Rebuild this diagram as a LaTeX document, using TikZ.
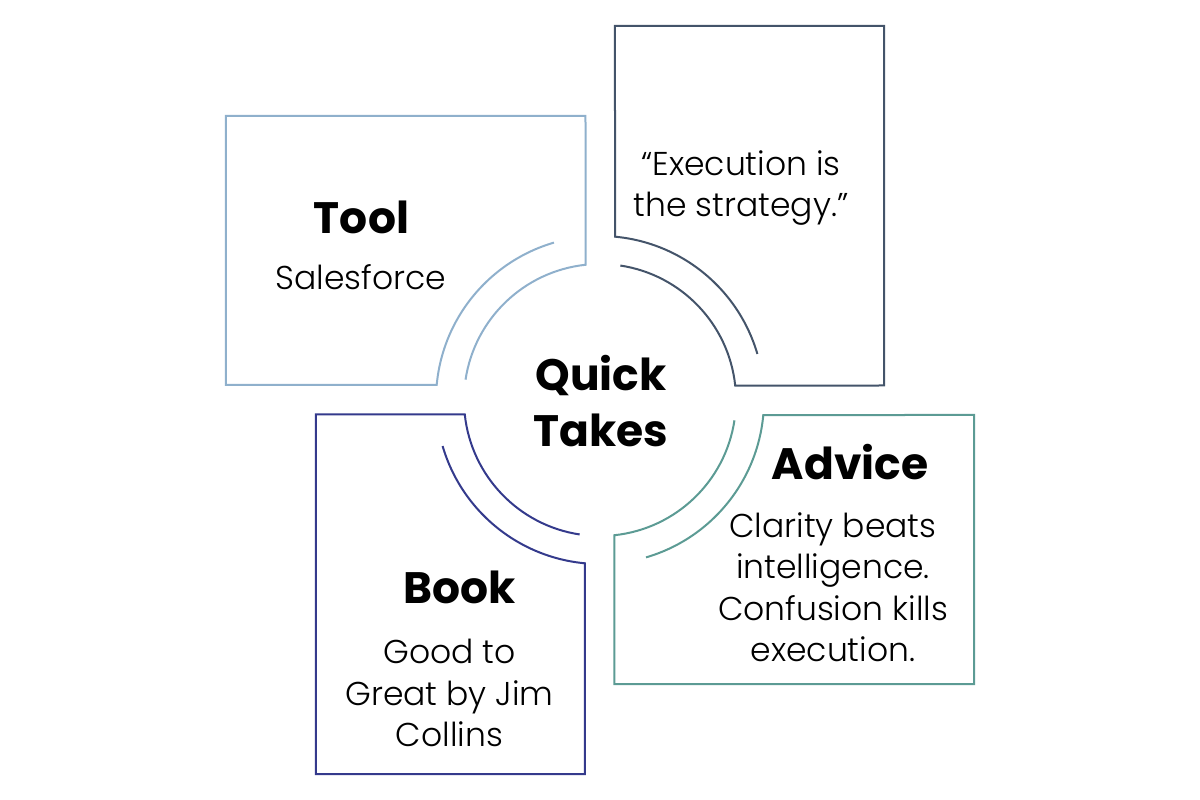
\documentclass[tikz,border=0pt]{standalone}
\usepackage{fontspec}
\setmainfont{Poppins}
\newfontfamily\bodyfont{Poppins}[UprightFont=* Light]

\definecolor{toolblue}{RGB}{143,176,204}
\definecolor{quoteslate}{RGB}{68,84,106}
\definecolor{booknavy}{RGB}{52,58,140}
\definecolor{adviceteal}{RGB}{92,155,148}

\begin{document}
\begin{tikzpicture}[x=1pt, y=1pt,
  every node/.style={align=center, inner sep=0pt},
  cutbox/.style={line width=2pt},
  head/.style={font=\fontsize{44}{55.7}\selectfont\bfseries},
  body/.style={font=\bodyfont\fontsize{33}{41.5}\selectfont}
]
  \useasboundingbox (-600,-400) rectangle (600,400);

  % four boxes, each one cut by two arcs round the centre
  \draw[cutbox, toolblue] (106.3:164) arc[start angle=106.3, end angle=174.75, radius=164]
    -- (-374,15) -- (-374,284) -- (-14.5,284) -- (96.1:136) arc[start angle=96.1, end angle=171.4, radius=136];
  \draw[cutbox, quoteslate, rotate=-90] (106.3:164) arc[start angle=106.3, end angle=174.75, radius=164]
    -- (-374,15) -- (-374,284) -- (-14.5,284) -- (96.1:136) arc[start angle=96.1, end angle=171.4, radius=136];
  \draw[cutbox, adviceteal, rotate=-180] (106.3:164) arc[start angle=106.3, end angle=174.75, radius=164]
    -- (-374,15) -- (-374,284) -- (-14.5,284) -- (96.1:136) arc[start angle=96.1, end angle=171.4, radius=136];
  \draw[cutbox, booknavy, rotate=-270] (106.3:164) arc[start angle=106.3, end angle=174.75, radius=164]
    -- (-374,15) -- (-374,284) -- (-14.5,284) -- (96.1:136) arc[start angle=96.1, end angle=171.4, radius=136];

  \node[head] (centre) at (1,-1.2) {Quick\\Takes};

  \node[head, anchor=base] (tooltitle) at (-238.5,166) {Tool};
  \node[body, anchor=base] (tooltext) at (-239,110.7) {Salesforce};

  \node[body] (quote) at (141,212) {“Execution is\\the strategy.”};

  \node[head, anchor=base] (advicetitle) at (250,-80) {Advice};
  \node[body] (advicetext) at (233,-187.4) {Clarity beats\\intelligence.\\Confusion kills\\execution.};

  \node[head, anchor=base] (booktitle) at (-140,-203.3) {Book};
  \node[body] (booktext) at (-150.5,-293.2) {Good to\\Great by Jim\\Collins};
\end{tikzpicture}
\end{document}
